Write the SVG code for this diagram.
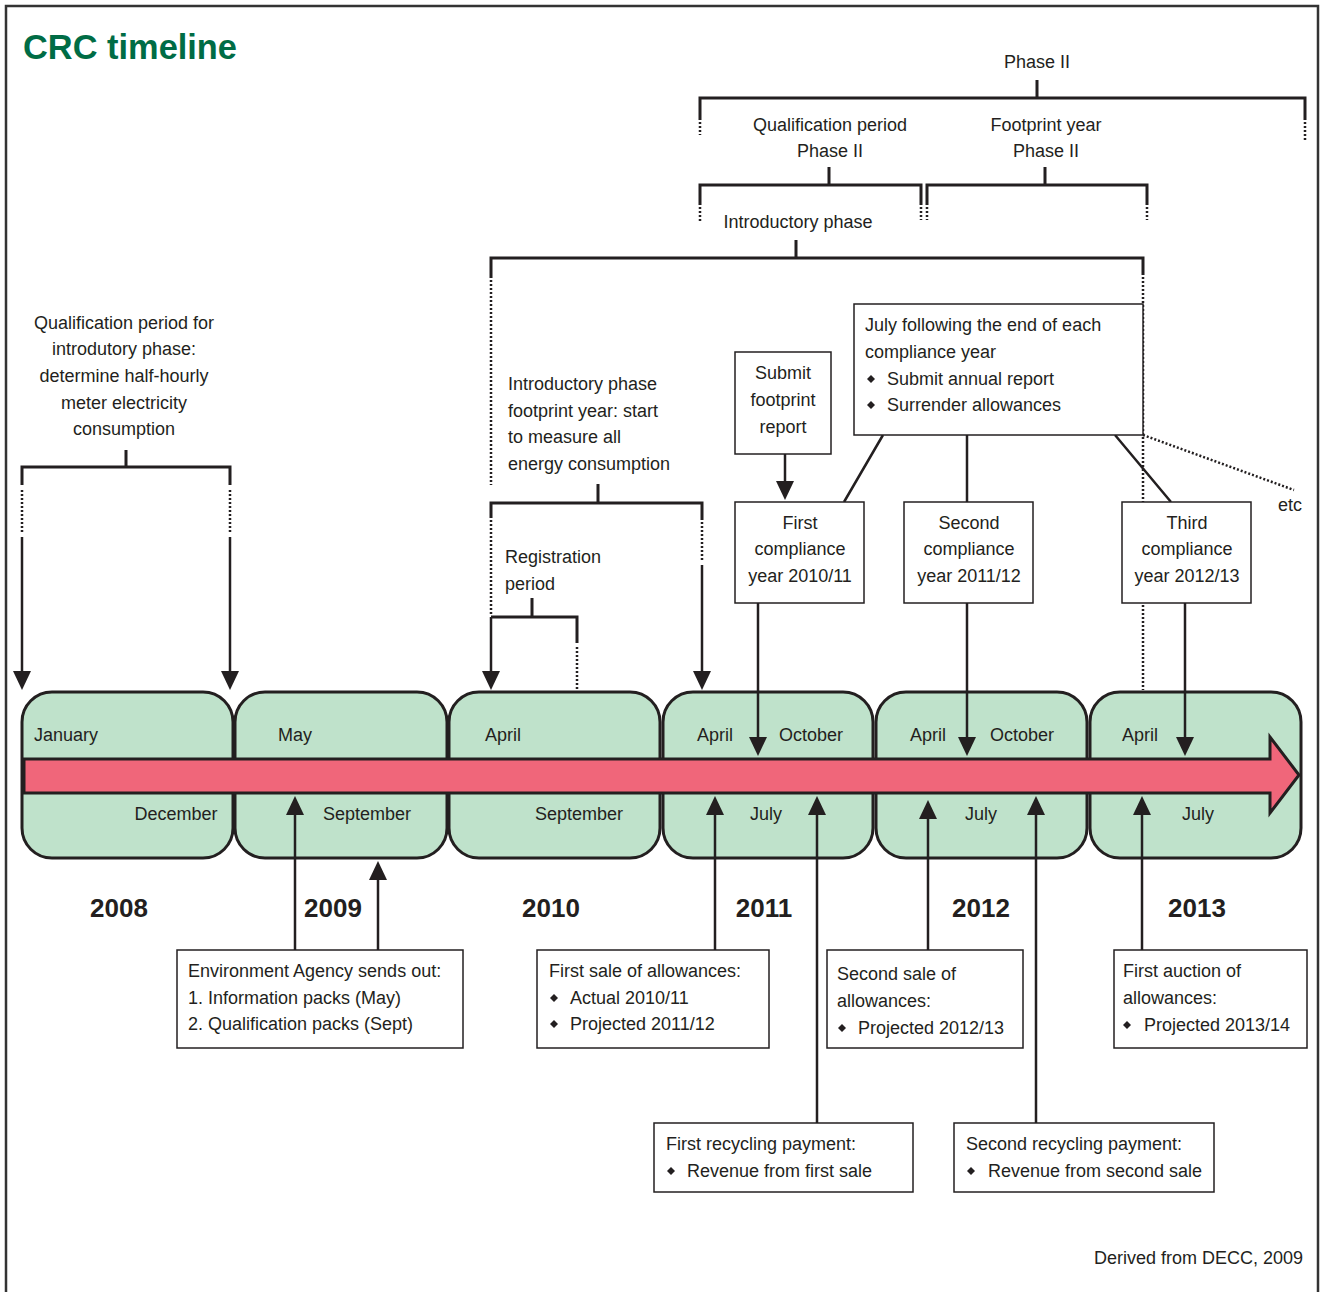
<svg xmlns="http://www.w3.org/2000/svg" width="1320" height="1292" viewBox="0 0 1320 1292">
<style>
text{font-family:"Liberation Sans",Arial,sans-serif;font-size:18px;fill:#231f20}
.title{font-size:35px;font-weight:bold;fill:#006c45}
.yr{font-size:26px;font-weight:bold;text-anchor:middle}
.c{text-anchor:middle}
.e{text-anchor:end}
.br{fill:none;stroke:#231f20;stroke-width:3}
.dot{fill:none;stroke:#231f20;stroke-width:2.5;stroke-dasharray:2 2}
.ln{fill:none;stroke:#231f20;stroke-width:2.5}
.ar{fill:none;stroke:#231f20;stroke-width:2.5;marker-end:url(#ah)}
.box{fill:#fff;stroke:#231f20;stroke-width:1.5}
.seg{fill:#bfe2cb;stroke:#231f20;stroke-width:3}
.bul{fill:#231f20}
</style>
<defs>
<marker id="ah" viewBox="-19 -9 19 18" refX="-4" refY="0" markerWidth="19" markerHeight="18" markerUnits="userSpaceOnUse" orient="auto">
<path d="M-19,-9 L0,0 L-19,9 z" fill="#231f20"/>
</marker>
<path id="dm" d="M0,-4 L4,0 L0,4 L-4,0 z"/>
</defs>
<rect x="0" y="0" width="1320" height="1292" fill="#fff"/>
<path d="M6,1292 V6 H1318 V1292" fill="none" stroke="#333" stroke-width="2.5"/>
<text class="title" x="23" y="59" textLength="214" lengthAdjust="spacingAndGlyphs">CRC timeline</text>

<g id="timeline">
<rect class="seg" x="22" y="692" width="211" height="166" rx="30"/>
<rect class="seg" x="235" y="692" width="212" height="166" rx="30"/>
<rect class="seg" x="449" y="692" width="211" height="166" rx="30"/>
<rect class="seg" x="663" y="692" width="210" height="166" rx="30"/>
<rect class="seg" x="876" y="692" width="211" height="166" rx="30"/>
<rect class="seg" x="1090" y="692" width="211" height="166" rx="30"/>
<path d="M24,759 H1270 V737 L1299,775 L1270,813 V793 H24 Z" fill="#f0667a" stroke="#231f20" stroke-width="3" stroke-linejoin="miter"/>
<text x="34" y="741">January</text>
<text class="c" x="176" y="820">December</text>
<text class="c" x="295" y="741">May</text>
<text class="c" x="367" y="820">September</text>
<text class="c" x="503" y="741">April</text>
<text class="c" x="579" y="820">September</text>
<text class="c" x="715" y="741">April</text>
<text class="c" x="811" y="741">October</text>
<text class="c" x="766" y="820">July</text>
<text class="c" x="928" y="741">April</text>
<text class="c" x="1022" y="741">October</text>
<text class="c" x="981" y="820">July</text>
<text class="c" x="1140" y="741">April</text>
<text class="c" x="1198" y="820">July</text>
<text class="yr" x="119" y="917">2008</text>
<text class="yr" x="333" y="917">2009</text>
<text class="yr" x="551" y="917">2010</text>
<text class="yr" x="764" y="917">2011</text>
<text class="yr" x="981" y="917">2012</text>
<text class="yr" x="1197" y="917">2013</text>
</g>

<g id="labels">
<text class="c" x="1037" y="68">Phase II</text>
<text class="c" x="830" y="131">Qualification period</text>
<text class="c" x="830" y="157">Phase II</text>
<text class="c" x="1046" y="131">Footprint year</text>
<text class="c" x="1046" y="157">Phase II</text>
<text class="c" x="798" y="228">Introductory phase</text>
<text class="c" x="124" y="329">Qualification period for</text>
<text class="c" x="124" y="355">introdutory phase:</text>
<text class="c" x="124" y="382">determine half-hourly</text>
<text class="c" x="124" y="409">meter electricity</text>
<text class="c" x="124" y="435">consumption</text>
<text x="508" y="390">Introductory phase</text>
<text x="508" y="417">footprint year: start</text>
<text x="508" y="443">to measure all</text>
<text x="508" y="470">energy consumption</text>
<text x="505" y="563">Registration</text>
<text x="505" y="590">period</text>
<text x="1278" y="511">etc</text>
<text class="e" x="1303" y="1264">Derived from DECC, 2009</text>
</g>

<g id="connectors">
<path class="br" d="M22,485 V467 H230 V485 M126,450 V467"/>
<path class="dot" d="M22,490 V533 M230,490 V533"/>
<path class="ar" d="M22,537 V686"/>
<path class="ar" d="M230,537 V686"/>
<path class="br" d="M700,120 V98 H1305 V120 M1037,80 V98"/>
<path class="dot" d="M700,122 V135 M1305,122 V140"/>
<path class="br" d="M700,205 V185 H921 V205 M829,167 V185"/>
<path class="dot" d="M700,207 V222 M921,207 V220"/>
<path class="br" d="M927,205 V185 H1147 V205 M1045,167 V185"/>
<path class="dot" d="M927,207 V220 M1147,207 V220"/>
<path class="br" d="M491,278 V258 H1143 V275 M796,240 V258"/>
<path class="dot" d="M491,280 V485 M1143,277 V690"/>
<path class="br" d="M491,518 V503 H702 V520 M598,484 V503"/>
<path class="dot" d="M491,520 V615 M702,522 V561"/>
<path class="ar" d="M702,565 V686"/>
<path class="br" d="M532,598 V617 M491,617 H577 V643"/>
<path class="ar" d="M491,617 V686"/>
<path class="dot" d="M577,647 V690"/>
<path class="ar" d="M785,454 V496"/>
<path class="ar" d="M758,603 V752"/>
<path class="ar" d="M967,603 V752"/>
<path class="ar" d="M1185,603 V752"/>
<path class="ln" d="M883,435 L844,502 M967,435 V502 M1115,435 L1171,502"/>
<path class="dot" d="M1143,435 L1294,490"/>
<path class="ar" d="M295,950 V800"/>
<path class="ar" d="M378,950 V865"/>
<path class="ar" d="M715,950 V800"/>
<path class="ar" d="M817,1123 V800"/>
<path class="ar" d="M928,950 V804"/>
<path class="ar" d="M1036,1123 V800"/>
<path class="ar" d="M1142,950 V800"/>
</g>

<g id="submit-footprint">
<rect class="box" x="735" y="352" width="96" height="102"/>
<text class="c" x="783" y="379">Submit</text>
<text class="c" x="783" y="406">footprint</text>
<text class="c" x="783" y="433">report</text>
</g>
<g id="july-box">
<rect class="box" x="854" y="304" width="289" height="131"/>
<text x="865" y="331">July following the end of each</text>
<text x="865" y="358">compliance year</text>
<use href="#dm" class="bul" x="871" y="379"/>
<text x="887" y="385">Submit annual report</text>
<use href="#dm" class="bul" x="871" y="405"/>
<text x="887" y="411">Surrender allowances</text>
</g>
<g id="first-compliance">
<rect class="box" x="735" y="502" width="129" height="101"/>
<text class="c" x="800" y="529">First</text>
<text class="c" x="800" y="555">compliance</text>
<text class="c" x="800" y="582">year 2010/11</text>
</g>
<g id="second-compliance">
<rect class="box" x="904" y="502" width="129" height="101"/>
<text class="c" x="969" y="529">Second</text>
<text class="c" x="969" y="555">compliance</text>
<text class="c" x="969" y="582">year 2011/12</text>
</g>
<g id="third-compliance">
<rect class="box" x="1122" y="502" width="129" height="101"/>
<text class="c" x="1187" y="529">Third</text>
<text class="c" x="1187" y="555">compliance</text>
<text class="c" x="1187" y="582">year 2012/13</text>
</g>
<g id="environment-agency">
<rect class="box" x="177" y="950" width="286" height="98"/>
<text x="188" y="977">Environment Agency sends out:</text>
<text x="188" y="1004">1. Information packs (May)</text>
<text x="188" y="1030">2. Qualification packs (Sept)</text>
</g>
<g id="first-sale">
<rect class="box" x="537" y="950" width="232" height="98"/>
<text x="549" y="977">First sale of allowances:</text>
<use href="#dm" class="bul" x="554" y="998"/>
<text x="570" y="1004">Actual 2010/11</text>
<use href="#dm" class="bul" x="554" y="1024"/>
<text x="570" y="1030">Projected 2011/12</text>
</g>
<g id="second-sale">
<rect class="box" x="827" y="950" width="196" height="98"/>
<text x="837" y="980">Second sale of</text>
<text x="837" y="1007">allowances:</text>
<use href="#dm" class="bul" x="842" y="1028"/>
<text x="858" y="1034">Projected 2012/13</text>
</g>
<g id="first-auction">
<rect class="box" x="1114" y="950" width="193" height="98"/>
<text x="1123" y="977">First auction of</text>
<text x="1123" y="1004">allowances:</text>
<use href="#dm" class="bul" x="1127" y="1025"/>
<text x="1144" y="1031">Projected 2013/14</text>
</g>
<g id="first-recycling">
<rect class="box" x="654" y="1123" width="259" height="69"/>
<text x="666" y="1150">First recycling payment:</text>
<use href="#dm" class="bul" x="671" y="1171"/>
<text x="687" y="1177">Revenue from first sale</text>
</g>
<g id="second-recycling">
<rect class="box" x="954" y="1123" width="260" height="69"/>
<text x="966" y="1150">Second recycling payment:</text>
<use href="#dm" class="bul" x="971" y="1171"/>
<text x="988" y="1177">Revenue from second sale</text>
</g>
</svg>
